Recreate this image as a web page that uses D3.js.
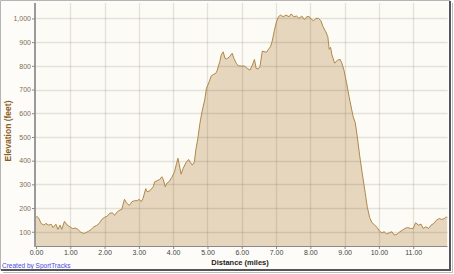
<!DOCTYPE html>
<html>
<head>
<meta charset="utf-8">
<script src="https://cdn.jsdelivr.net/npm/d3@7"></script>
<style>
  body { margin: 0; background: #fff; }
  svg { display: block; }
</style>
</head>
<body>
<div id="chart"></div>
<script>
// distance in miles, elevation in feet
const distance = [0.00, 0.03, 0.08, 0.15, 0.23, 0.29, 0.37, 0.44, 0.50, 0.58, 0.64, 0.70, 0.75, 0.83, 0.91, 0.99,
  1.07, 1.14, 1.22, 1.30, 1.38, 1.45, 1.53, 1.61, 1.69, 1.77, 1.84, 1.92, 2.00, 2.08, 2.15, 2.23, 2.29, 2.37, 2.45,
  2.50, 2.58, 2.64, 2.72, 2.80, 2.87, 2.95, 3.01, 3.07, 3.12, 3.20, 3.24, 3.32, 3.42, 3.46, 3.53, 3.61, 3.67, 3.71,
  3.77, 3.81, 3.88, 3.96, 4.04, 4.10, 4.14, 4.17, 4.23, 4.29, 4.37, 4.45, 4.51, 4.56, 4.62, 4.66, 4.72, 4.78, 4.84,
  4.92, 4.97, 5.05, 5.11, 5.19, 5.24, 5.28, 5.32, 5.36, 5.40, 5.46, 5.51, 5.56, 5.64, 5.72, 5.77, 5.84, 5.90, 5.98,
  6.08, 6.16, 6.24, 6.31, 6.37, 6.42, 6.48, 6.53, 6.60, 6.65, 6.72, 6.78, 6.84, 6.89, 6.95, 7.01, 7.07, 7.13, 7.21,
  7.29, 7.38, 7.44, 7.52, 7.60, 7.67, 7.75, 7.83, 7.90, 7.97, 8.04, 8.10, 8.16, 8.24, 8.31, 8.37, 8.45, 8.51, 8.55,
  8.59, 8.63, 8.71, 8.79, 8.87, 8.92, 8.98, 9.06, 9.13, 9.21, 9.25, 9.31, 9.37, 9.44, 9.52, 9.60, 9.66, 9.73, 9.80,
  9.88, 9.95, 10.01, 10.08, 10.16, 10.22, 10.30, 10.38, 10.45, 10.53, 10.61, 10.69, 10.76, 10.84, 10.92, 11.00,
  11.07, 11.15, 11.23, 11.29, 11.37, 11.45, 11.52, 11.60, 11.68, 11.76, 11.83, 11.91, 11.97, 11.99];
const elevation = [160, 165, 157, 135, 128, 135, 128, 132, 118, 132, 110, 128, 110, 144, 128, 121,
  113, 116, 110, 99, 93, 96, 102, 110, 121, 127, 135, 152, 161, 166, 178, 180, 169, 184, 192,
  194, 237, 222, 211, 227, 231, 231, 237, 227, 240, 282, 269, 273, 290, 311, 315, 321, 332, 321,
  290, 304, 311, 329, 353, 389, 410, 389, 343, 367, 391, 405, 391, 381, 395, 445, 494, 557, 606,
  656, 705, 733, 757, 765, 768, 779, 799, 817, 845, 859, 832, 829, 838, 853, 832, 811, 800, 799,
  799, 789, 782, 803, 827, 789, 787, 796, 862, 860, 857, 870, 881, 905, 948, 985, 1007, 1014, 1007,
  1014, 1007, 1019, 1007, 1010, 1000, 1010, 995, 1008, 1007, 995, 990, 1000, 1000, 990, 965, 944, 923, 870,
  878, 846, 811, 824, 827, 811, 782, 726, 670, 613, 585, 560, 500, 420, 340, 265, 205, 160, 138,
  128, 118, 104, 96, 100, 90, 96, 100, 86, 90, 100, 107, 114, 118, 114, 114,
  138, 128, 132, 114, 121, 114, 128, 135, 149, 156, 152, 156, 163, 160];

const xTicks = [0, 1, 2, 3, 4, 5, 6, 7, 8, 9, 10, 11];
const yTicks = [100, 200, 300, 400, 500, 600, 700, 800, 900, 1000];

const width = 454, height = 274;
const plotL = 36, plotR = 447.5, plotT = 3, plotB = 246;

const svg = d3.select('#chart').append('svg')
    .attr('width', width)
    .attr('height', height);

// outer frame with a little shadow on right and bottom
svg.append('rect')
    .attr('x', 0).attr('y', 0)
    .attr('width', 451).attr('height', 270)
    .attr('fill', '#fdfcf8');
svg.append('path')
    .attr('d', 'M0.5,270 V0.5 H450')
    .attr('fill', 'none')
    .attr('stroke', '#b5b5b5');
svg.append('path')
    .attr('d', 'M450,1 V270 H1')
    .attr('fill', 'none')
    .attr('stroke', '#555')
    .attr('stroke-width', 2);
svg.append('path')
    .attr('d', 'M452.5,3 V272.5 H3')
    .attr('fill', 'none')
    .attr('stroke', '#bbb');

const x = d3.scaleLinear().domain([0, 12]).range([plotL, plotR]);
const y = d3.scaleLinear().domain([40, 1065]).range([plotB, plotT]);

svg.append('rect')
    .attr('x', plotL).attr('y', plotT)
    .attr('width', plotR - plotL).attr('height', plotB - plotT)
    .attr('fill', '#fcfbf5');

const pts = distance.map((d, i) => [d, elevation[i]]);

svg.append('path')
    .datum(pts)
    .attr('fill', '#e6d6bd')
    .attr('d', d3.area().x(d => x(d[0])).y0(plotB).y1(d => y(d[1])));

// grid over the fill
const grid = svg.append('g').attr('stroke', 'rgba(90,80,70,0.15)').attr('stroke-width', 1.3);
grid.selectAll('.gx').data(xTicks.slice(1)).join('line')
    .attr('x1', d => Math.round(x(d)) + 0.5).attr('x2', d => Math.round(x(d)) + 0.5)
    .attr('y1', plotT).attr('y2', plotB);
grid.selectAll('.gy').data(yTicks).join('line')
    .attr('x1', plotL).attr('x2', plotR)
    .attr('y1', d => Math.round(y(d)) + 0.5).attr('y2', d => Math.round(y(d)) + 0.5);

svg.append('path')
    .datum(pts)
    .attr('fill', 'none')
    .attr('stroke', '#b08848')
    .attr('stroke-width', 1)
    .attr('d', d3.line().x(d => x(d[0])).y(d => y(d[1])));

// axes
const yAxis = svg.append('g')
    .attr('transform', `translate(${plotL - 1},0)`)
    .call(d3.axisLeft(y).tickValues(yTicks).tickSize(3).tickPadding(1).tickFormat(d3.format(',')));
yAxis.select('.domain').attr('stroke', '#9a9a9a').attr('stroke-width', 2).attr('d', `M0,${plotT}V${plotB + 1}`);
yAxis.selectAll('.tick line').attr('stroke', '#888');
yAxis.selectAll('.tick text')
    .attr('fill', '#7d6d55')
    .style('font', '7px "Liberation Sans", sans-serif');

const xAxis = svg.append('g')
    .attr('transform', `translate(0,${plotB})`)
    .call(d3.axisBottom(x).tickValues(xTicks).tickSize(3).tickPadding(1).tickFormat(d3.format('.2f')));
xAxis.select('.domain').attr('stroke', '#8a8a8a').attr('d', `M${plotL},0.5H${plotR}`);
xAxis.selectAll('.tick line').attr('stroke', '#888');
xAxis.selectAll('.tick text')
    .attr('fill', '#444')
    .style('font', '7px "Liberation Sans", sans-serif');

svg.append('text')
    .attr('x', 240).attr('y', 265)
    .attr('text-anchor', 'middle')
    .attr('fill', '#222')
    .style('font', 'bold 7.5px "Liberation Sans", sans-serif')
    .text('Distance (miles)');

svg.append('text')
    .attr('transform', 'translate(10.5,131) rotate(-90)')
    .attr('text-anchor', 'middle')
    .attr('fill', '#8a5c1e')
    .style('font', 'bold 8.5px "Liberation Sans", sans-serif')
    .text('Elevation (feet)');

svg.append('text')
    .attr('x', 2).attr('y', 268)
    .attr('fill', '#4a4ae8')
    .style('font', '6.5px "Liberation Sans", sans-serif')
    .text('Created by SportTracks');
</script>
</body>
</html>
